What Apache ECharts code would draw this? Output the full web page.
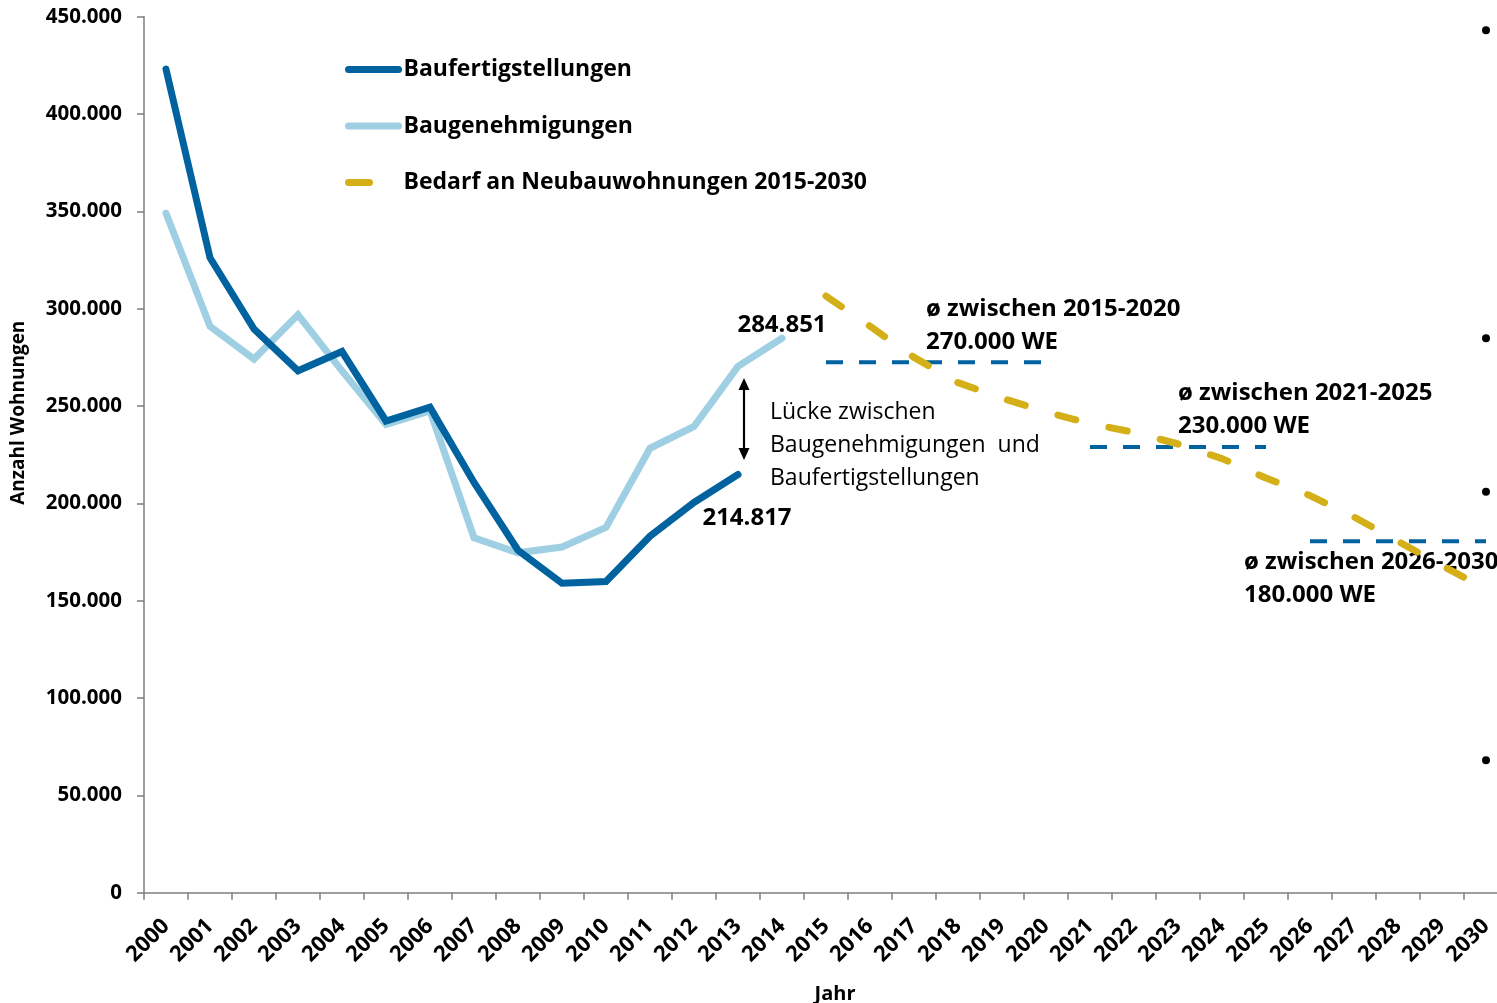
<!DOCTYPE html>
<html>
<head>
<meta charset="utf-8">
<script src="https://cdn.jsdelivr.net/npm/echarts@6/dist/echarts.min.js"></script>
<style>
html,body{margin:0;padding:0;background:#fff;}
#chart{width:1497px;height:1003px;}
</style>
</head>
<body>
<div id="chart"></div>
<script>
// ---- data ----
const years = ['2000','2001','2002','2003','2004','2005','2006','2007','2008','2009','2010','2011','2012','2013','2014','2015','2016','2017','2018','2019','2020','2021','2022','2023','2024','2025','2026','2027','2028','2029','2030'];
const fertigstellungen = [423044, 326187, 289587, 268103, 278008, 242316, 249436, 210739, 175927, 158987, 159832, 183110, 200466, 214817];
const genehmigungen = [348987, 291000, 274117, 296823, 268100, 240571, 247541, 182336, 174595, 177570, 187667, 228311, 239498, 270380, 284851];
const bedarfYears = ['2015','2016','2017','2018','2019','2020','2021','2022','2023','2024','2025','2026','2027','2028','2029','2030'];
const bedarf = [306500, 291000, 275000, 262000, 254000, 247000, 241000, 236500, 230500, 223000, 213000, 204000, 193000, 180500, 168000, 156000];
const avgPeriods = [['2015','2020'], ['2021','2025'], ['2026','2030']];
const avgValues = [272500, 229000, 180500];
const dotYear = '2030';
const dotValues = [443000, 284851, 206000, 68000];

function fmt(v){ return String(v).replace(/\B(?=(\d{3})+(?!\d))/g, '.'); }

const FONT = '"Open Sans"';
const DARK = '#00629E', LIGHT = '#9ECFE2', GOLD = '#D4AF17';

const valLabel = (pos, dist, off) => ({show: true, position: pos, distance: dist, offset: off,
  formatter: p => fmt(p.value), fontFamily: FONT, fontWeight: 'bold', fontSize: 24, color: '#000'});

const fertData = fertigstellungen.map((v, i) => i === fertigstellungen.length - 1
  ? {value: v, label: valLabel('bottom', 32, [9, 0])} : v);
const genData = genehmigungen.map((v, i) => i === genehmigungen.length - 1
  ? {value: v, label: valLabel('top', 1, [0, 0])} : v);
const bedarfData = years.map(y => { const k = bedarfYears.indexOf(y); return k >= 0 ? bedarf[k] : null; });

const avgSeries = avgPeriods.map((pr, j) => {
  const a = years.indexOf(pr[0]), b = years.indexOf(pr[1]);
  return {
    name: 'avg' + j, type: 'line', symbol: 'none', silent: true, z: 3,
    data: years.map((y, i) => (i >= a && i <= b) ? avgValues[j] : null),
    lineStyle: {color: DARK, width: 4, type: [17, 16], cap: 'butt'}
  };
});

const chart = echarts.init(document.getElementById('chart'), null, {renderer: 'canvas'});
chart.setOption({
  animation: false,
  backgroundColor: '#fff',
  grid: {left: 144, top: 16.7, width: 1364, height: 876, containLabel: false, outerBoundsMode: 'none'},
  legend: {
    show: true, orient: 'vertical', left: 345, top: 56.5, padding: 0, selectedMode: false,
    itemWidth: 50, itemHeight: 14, itemGap: 30.5,
    itemStyle: {opacity: 0},
    lineStyle: {width: 7, cap: 'round'},
    data: [
      {name: 'Baufertigstellungen'},
      {name: 'Baugenehmigungen'},
      {name: 'Bedarf an Neubauwohnungen 2015-2030', lineStyle: {type: [21, 60]}}
    ],
    textStyle: {fontFamily: FONT, fontWeight: 'bold', fontSize: 23, color: '#000', lineHeight: 26}
  },
  xAxis: {
    type: 'category', data: years, boundaryGap: true,
    name: 'Jahr', nameLocation: 'middle', nameGap: 92,
    nameTextStyle: {fontFamily: FONT, fontWeight: 'bold', fontSize: 20, color: '#000', padding: [0, 0, 0, 18]},
    axisLine: {lineStyle: {color: '#7f7f7f', width: 1.5}},
    axisTick: {show: true, length: 7, alignWithLabel: false, lineStyle: {color: '#7f7f7f', width: 1.5}},
    axisLabel: {rotate: 45, margin: 30, interval: 0, fontFamily: FONT, fontWeight: 'bold', fontSize: 22, color: '#000'},
    splitLine: {show: false}
  },
  yAxis: {
    type: 'value', min: 0, max: 450000, interval: 50000,
    name: 'Anzahl Wohnungen', nameLocation: 'middle', nameGap: 116, nameRotate: 90,
    nameTextStyle: {fontFamily: FONT, fontWeight: 'bold', fontSize: 19, color: '#000', padding: [0, 0, 0, 84]},
    axisLine: {show: true, lineStyle: {color: '#7f7f7f', width: 1.5}},
    axisTick: {show: true, length: 7, inside: false, lineStyle: {color: '#7f7f7f', width: 1.5}},
    axisLabel: {margin: 22, formatter: v => fmt(v), fontFamily: FONT, fontWeight: 'bold', fontSize: 20.5, color: '#000'},
    splitLine: {show: false}
  },
  series: [
    {name: 'Baufertigstellungen', type: 'line', symbol: 'circle', symbolSize: 0, showSymbol: true, showAllSymbol: true, z: 5, data: fertData,
     lineStyle: {color: DARK, width: 7, cap: 'round', join: 'miter'}, itemStyle: {color: DARK}},
    {name: 'Baugenehmigungen', type: 'line', symbol: 'circle', symbolSize: 0, showSymbol: true, showAllSymbol: true, z: 4, data: genData,
     lineStyle: {color: LIGHT, width: 7, cap: 'round', join: 'miter'}, itemStyle: {color: LIGHT}},
    {name: 'Bedarf an Neubauwohnungen 2015-2030', type: 'line', symbol: 'none', z: 4, data: bedarfData,
     lineStyle: {color: GOLD, width: 7, type: [18.6, 34], cap: 'round'}, itemStyle: {color: GOLD}},
    ...avgSeries,
    {name: 'dots', type: 'scatter', symbol: 'circle', symbolSize: 8, silent: true, z: 6,
     data: dotValues.map(v => [dotYear, v]), itemStyle: {color: '#000', opacity: 1}}
  ],
  graphic: [
    {type: 'line', shape: {x1: 744, y1: 388, x2: 744, y2: 450}, style: {stroke: '#000', lineWidth: 2.2}},
    {type: 'polygon', shape: {points: [[744, 378], [738.5, 390], [749.5, 390]]}, style: {fill: '#000'}},
    {type: 'polygon', shape: {points: [[744, 460], [738.5, 448], [749.5, 448]]}, style: {fill: '#000'}},
    {type: 'text', left: 770, top: 396, style: {text: 'Lücke zwischen\nBaugenehmigungen  und\nBaufertigstellungen', font: '23px ' + FONT, lineHeight: 33, fill: '#000'}},
    {type: 'text', left: 926, top: 293, style: {text: 'ø zwischen 2015-2020\n270.000 WE', font: 'bold 24px ' + FONT, lineHeight: 33, fill: '#000'}},
    {type: 'text', left: 1178, top: 377, style: {text: 'ø zwischen 2021-2025\n230.000 WE', font: 'bold 24px ' + FONT, lineHeight: 33, fill: '#000'}},
    {type: 'text', left: 1244, top: 546, style: {text: 'ø zwischen 2026-2030\n180.000 WE', font: 'bold 24px ' + FONT, lineHeight: 33, fill: '#000'}}
  ]
});
</script>
</body>
</html>
